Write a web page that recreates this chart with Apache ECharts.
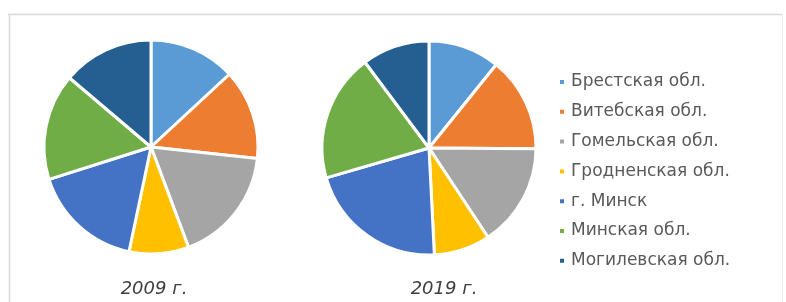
<!DOCTYPE html>
<html>
<head>
<meta charset="utf-8">
<script src="https://cdn.jsdelivr.net/npm/echarts@6/dist/echarts.min.js"></script>
<style>
  html, body { margin: 0; padding: 0; background: #fff; }
  #chart { width: 786px; height: 302px; }
</style>
</head>
<body>
<div id="chart"></div>
<script>
// regions (legend order)
var regions = ['Брестская обл.', 'Витебская обл.', 'Гомельская обл.', 'Гродненская обл.', 'г. Минск', 'Минская обл.', 'Могилевская обл.'];
// shares, %
var share2009 = [13.1, 13.6, 17.6, 9.0, 16.8, 16.1, 13.8];
var share2019 = [10.8, 14.3, 15.6, 8.5, 21.3, 19.3, 10.2];
var years = ['2009 г.', '2019 г.'];
var palette = ['#5B9BD5', '#ED7D31', '#A5A5A5', '#FFC000', '#4472C4', '#70AD47', '#255E91'];

var chart = echarts.init(document.getElementById('chart'), null, { renderer: 'canvas' });

function pieSeries(name, values, cx, cy){
  return {
    name: name,
    type: 'pie',
    radius: 107,
    center: [cx, cy],
    startAngle: 90,
    clockwise: true,
    label: { show: false },
    labelLine: { show: false },
    emphasis: { disabled: true },
    itemStyle: { borderColor: '#fff', borderWidth: 3 },
    data: regions.map(function(r, i){ return { name: r, value: values[i] }; })
  };
}

var font = 'DejaVu Sans';

chart.setOption({
  animation: false,
  color: palette,
  title: [
    { text: years[0], left: 149, top: 275, textAlign: 'center',
      textStyle: { fontFamily: font, fontStyle: 'italic', fontWeight: 'normal', fontSize: 18, color: '#404040' } },
    { text: years[1], left: 439, top: 275, textAlign: 'center',
      textStyle: { fontFamily: font, fontStyle: 'italic', fontWeight: 'normal', fontSize: 18, color: '#404040' } }
  ],
  legend: {
    orient: 'vertical',
    left: 553,
    top: 67,
    icon: 'rect',
    itemWidth: 6,
    itemHeight: 6,
    itemGap: 9.8,
    data: regions,
    textStyle: { fontFamily: font, fontSize: 17, color: '#595959', lineHeight: 20, padding: [0, 0, 0, 1] }
  },
  graphic: [
    { type: 'line', shape: { x1: 8, y1: 14.5, x2: 783, y2: 14.5 }, style: { stroke: '#d9d9d9', lineWidth: 1.5 }, silent: true },
    { type: 'line', shape: { x1: 9.5, y1: 14, x2: 9.5, y2: 302 }, style: { stroke: '#d9d9d9', lineWidth: 1.5 }, silent: true },
    { type: 'line', shape: { x1: 782.5, y1: 14, x2: 782.5, y2: 302 }, style: { stroke: '#ececec', lineWidth: 1 }, silent: true }
  ],
  series: [
    pieSeries(years[0], share2009, 151, 147),
    pieSeries(years[1], share2019, 429, 148)
  ]
});
</script>
</body>
</html>
